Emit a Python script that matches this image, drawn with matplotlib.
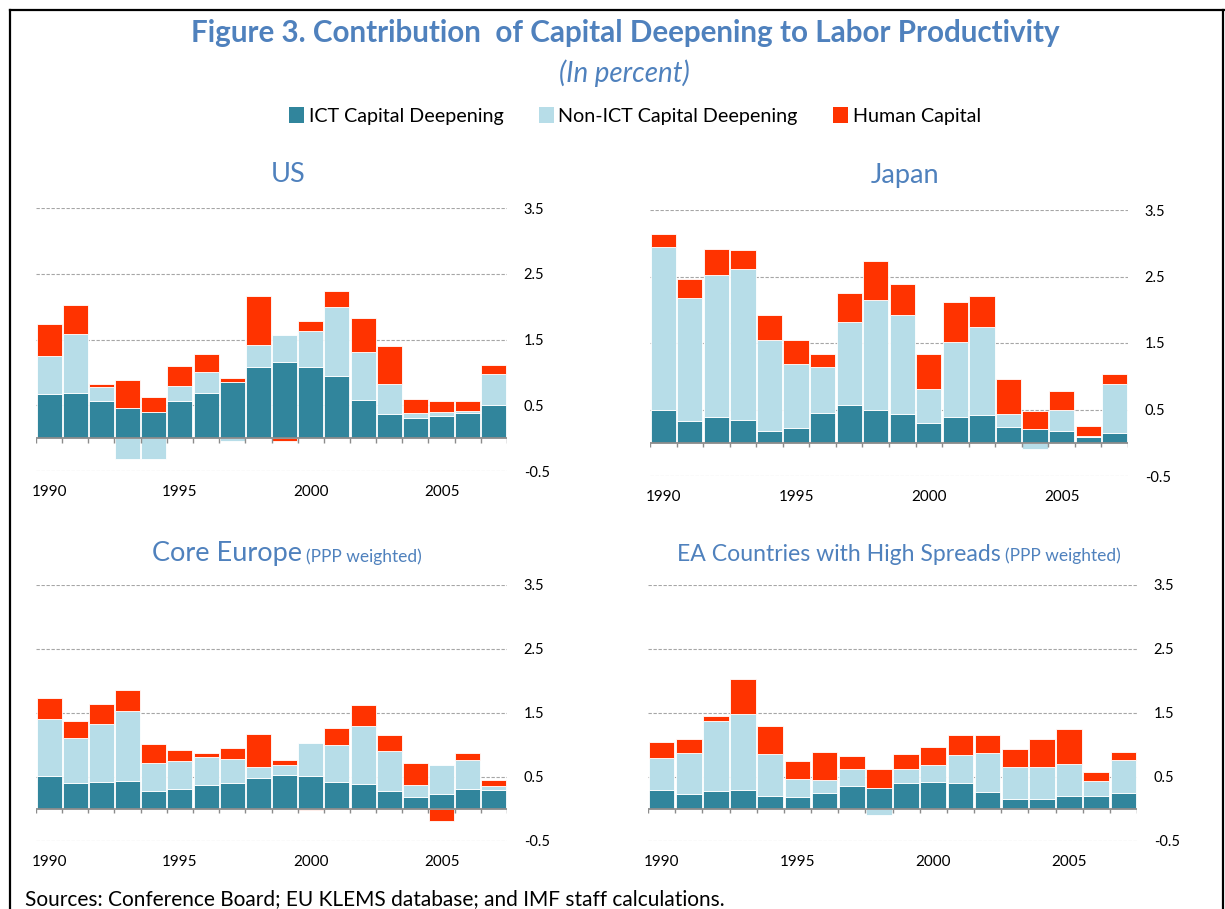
import matplotlib
matplotlib.use("Agg")
import matplotlib.pyplot as plt
from matplotlib.patches import Patch
from matplotlib.lines import Line2D
import numpy as np

plt.rcParams['font.family'] = ['Lato', 'DejaVu Sans']

years = list(range(1990, 2008))
year_labels = ['1990', '1995', '2000', '2005']
y_ticks = [-0.5, 0.5, 1.5, 2.5, 3.5]
series_names = ['ICT Capital Deepening', 'Non-ICT Capital Deepening', 'Human Capital']

us_ict = [0.67, 0.69, 0.57, 0.46, 0.40, 0.57, 0.69, 0.86, 1.08, 1.16, 1.08, 0.94, 0.58, 0.36, 0.30, 0.34, 0.38, 0.50]
us_non = [0.58, 0.89, 0.20, -0.32, -0.32, 0.23, 0.31, -0.05, 0.33, 0.41, 0.55, 1.06, 0.73, 0.47, 0.08, 0.06, 0.04, 0.48]
us_hc = [0.48, 0.44, 0.05, 0.43, 0.23, 0.29, 0.28, 0.05, 0.75, -0.05, 0.15, 0.24, 0.51, 0.57, 0.22, 0.16, 0.14, 0.13]

jp_ict = [0.49, 0.32, 0.39, 0.34, 0.17, 0.22, 0.44, 0.57, 0.50, 0.43, 0.30, 0.39, 0.41, 0.23, 0.20, 0.17, 0.09, 0.14]
jp_non = [2.45, 1.86, 2.13, 2.28, 1.38, 0.97, 0.70, 1.24, 1.64, 1.49, 0.51, 1.13, 1.33, 0.20, -0.10, 0.32, 0.01, 0.74]
jp_hc = [0.20, 0.28, 0.40, 0.28, 0.37, 0.35, 0.19, 0.44, 0.59, 0.46, 0.52, 0.59, 0.47, 0.53, 0.27, 0.29, 0.15, 0.15]

ce_ict = [0.51, 0.40, 0.42, 0.44, 0.28, 0.31, 0.37, 0.40, 0.48, 0.53, 0.51, 0.42, 0.39, 0.28, 0.18, 0.24, 0.31, 0.29]
ce_non = [0.89, 0.71, 0.91, 1.09, 0.44, 0.44, 0.44, 0.38, 0.18, 0.15, 0.52, 0.58, 0.91, 0.63, 0.20, 0.44, 0.46, 0.07]
ce_hc = [0.33, 0.27, 0.31, 0.33, 0.29, 0.17, 0.07, 0.18, 0.51, 0.09, -0.01, 0.27, 0.32, 0.24, 0.34, -0.19, 0.11, 0.09]

ea_ict = [0.29, 0.23, 0.28, 0.29, 0.20, 0.18, 0.25, 0.36, 0.33, 0.40, 0.42, 0.40, 0.27, 0.16, 0.15, 0.20, 0.20, 0.25]
ea_non = [0.51, 0.64, 1.10, 1.19, 0.66, 0.29, 0.20, 0.26, -0.10, 0.23, 0.26, 0.45, 0.60, 0.49, 0.51, 0.51, 0.24, 0.51]
ea_hc = [0.24, 0.22, 0.07, 0.55, 0.44, 0.28, 0.44, 0.21, 0.29, 0.23, 0.29, 0.31, 0.29, 0.28, 0.44, 0.54, 0.14, 0.13]

colors = ['#31859C', '#B7DDE8', '#FF3300']
blue = '#4F81BD'

W, H = 1225, 909
fig = plt.figure(figsize=(W / 100, H / 100), dpi=100)


def add_ax(l, r, t, b):
    return fig.add_axes([l / W, 1 - b / H, (r - l) / W, (b - t) / H])


def draw_panel(ax, data):
    x = np.arange(len(years))
    pos = np.zeros(len(years))
    neg = np.zeros(len(years))
    for vals, c in zip(data, colors):
        v = np.array(vals, dtype=float)
        bottom = np.where(v >= 0, pos, neg)
        ax.bar(x, v, bottom=bottom, width=0.95, color=c, edgecolor='white',
               linewidth=0.6, zorder=3)
        pos = np.where(v >= 0, pos + v, pos)
        neg = np.where(v < 0, neg + v, neg)
    ax.set_xlim(-0.5, len(years) - 0.5)
    ax.set_ylim(-0.5, 3.5)
    for yv in y_ticks:
        ax.axhline(yv, color='#A6A6A6', lw=0.8, ls=(0, (3, 1.5)), zorder=1)
    ax.axhline(0, color='#8C8C8C', lw=1.3, zorder=4)
    bounds = np.arange(len(years) + 1) - 0.5
    ax.vlines(bounds, -0.07, 0, color='#8C8C8C', lw=1.0, zorder=4)
    for s in ax.spines.values():
        s.set_visible(False)
    ax.yaxis.tick_right()
    ax.set_yticks(y_ticks)
    ax.set_yticklabels([f'{v:.1f}' for v in y_ticks])
    ax.tick_params(axis='y', length=0, pad=12, labelsize=10.5, colors='#000000')
    ax.set_xticks([years.index(int(y)) for y in year_labels])
    ax.set_xticklabels(year_labels)
    ax.tick_params(axis='x', length=0, pad=10, labelsize=11)


ax_us = add_ax(36, 507, 208, 471)
ax_jp = add_ax(650, 1128, 210, 476)
ax_ce = add_ax(36, 507, 585, 841)
ax_ea = add_ax(648, 1137, 585, 841)

draw_panel(ax_us, [us_ict, us_non, us_hc])
draw_panel(ax_jp, [jp_ict, jp_non, jp_hc])
draw_panel(ax_ce, [ce_ict, ce_non, ce_hc])
draw_panel(ax_ea, [ea_ict, ea_non, ea_hc])

# Titles
fig.text(625 / W, 1 - 33 / H, 'Figure 3. Contribution  of Capital Deepening to Labor Productivity',
         ha='center', va='center', fontsize=21.3, fontweight='bold', color=blue)
fig.text(624 / W, 1 - 73 / H, '(In percent)', ha='center', va='center',
         fontsize=20, style='italic', color=blue)

handles = [Patch(facecolor=c, edgecolor='none') for c in colors]
fig.legend(handles, series_names, loc='center', bbox_to_anchor=(635 / W, 1 - 116 / H),
           ncol=3, frameon=False, fontsize=14.2, handlelength=0.75, handleheight=0.9,
           handletextpad=0.25, columnspacing=1.8)

fig.text(288 / W, 1 - 175 / H, 'US', ha='center', va='center', fontsize=19.5, color=blue)
fig.text(905 / W, 1 - 175 / H, 'Japan', ha='center', va='center', fontsize=19.5, color=blue)

t1 = fig.text(152 / W, 1 - 561 / H, 'Core Europe', ha='left', va='baseline', fontsize=19.5,
              color=blue)
ax_us.annotate('(PPP weighted)', xy=(1, 0), xycoords=t1, xytext=(3, 1),
               textcoords='offset points', ha='left', va='bottom',
               fontsize=12.5, color=blue, annotation_clip=False)
t2 = fig.text(677 / W, 1 - 561 / H, 'EA Countries with High Spreads', ha='left', va='baseline',
              fontsize=16.6, color=blue)
ax_us.annotate('(PPP weighted)', xy=(1, 0), xycoords=t2, xytext=(3, 1),
               textcoords='offset points', ha='left', va='bottom',
               fontsize=12.5, color=blue, annotation_clip=False)

fig.text(25 / W, 1 - 899 / H, 'Sources: Conference Board; EU KLEMS database; and IMF staff calculations.',
         ha='left', va='center', fontsize=15, color='#000000')

# Frame lines
fig.add_artist(Line2D([10 / W, 10 / W], [0, 1 - 10 / H], color='black', lw=1.6))
fig.add_artist(Line2D([10 / W, 1], [1 - 10 / H, 1 - 10 / H], color='black', lw=1.6))
fig.add_artist(Line2D([1223 / W, 1223 / W], [0, 1 - 10 / H], color='black', lw=1.6))

fig.savefig('out.png', dpi=100)
